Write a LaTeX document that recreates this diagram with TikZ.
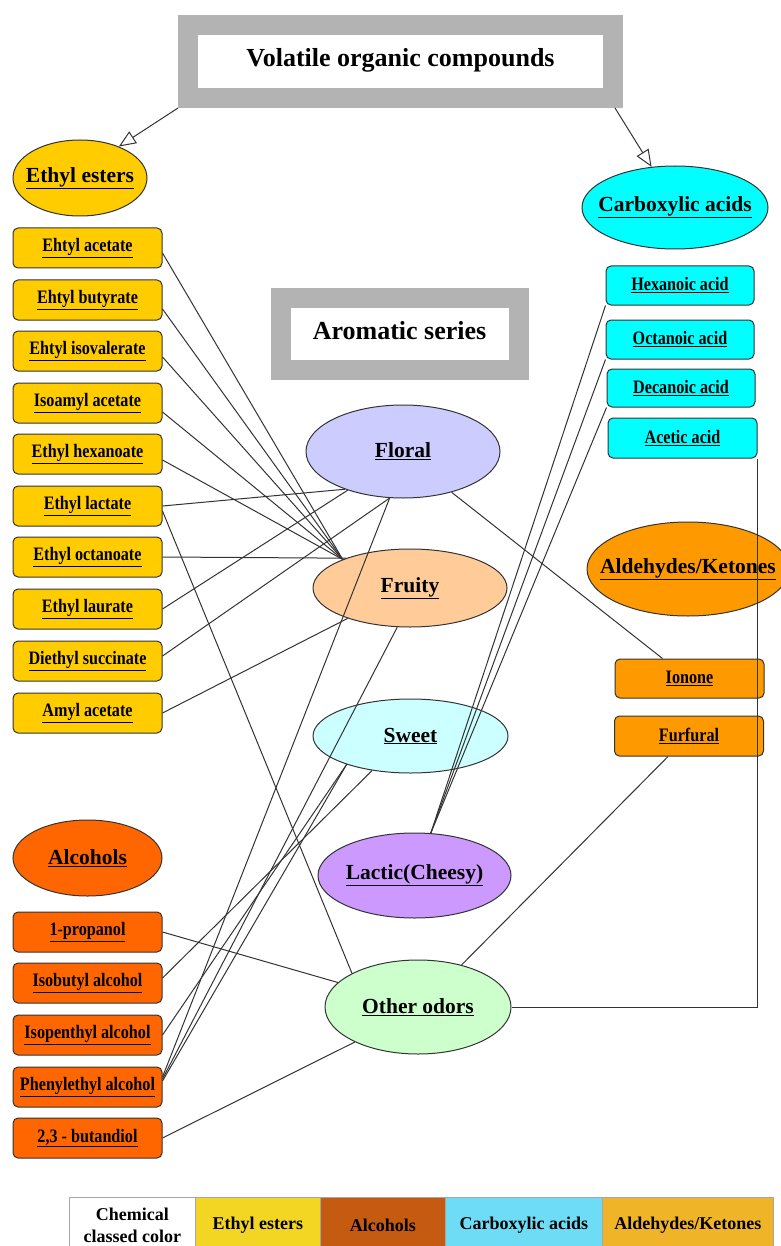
\documentclass[tikz,border=0pt]{standalone}
\usepackage{fontspec}
\setmainfont{Liberation Serif}
\newfontfamily\narrowserif{Liberation Serif}[FakeStretch=0.85]
\usetikzlibrary{shapes.geometric,arrows.meta}

\definecolor{esterc}{HTML}{FFCC00}
\definecolor{alcoc}{HTML}{FF6600}
\definecolor{acidc}{HTML}{00FFFF}
\definecolor{aldc}{HTML}{FF9900}
\definecolor{floralc}{HTML}{CCCCFF}
\definecolor{fruityc}{HTML}{FFCC99}
\definecolor{sweetc}{HTML}{CCFFFF}
\definecolor{lacticc}{HTML}{CC99FF}
\definecolor{otherc}{HTML}{CCFFCC}
\definecolor{framec}{HTML}{B3B3B3}
\definecolor{legyel}{HTML}{F2D623}
\definecolor{legbrn}{HTML}{C55A11}
\definecolor{legblu}{HTML}{6DDCF4}
\definecolor{legorg}{HTML}{EFB427}
\definecolor{linec}{HTML}{333333}

\newcommand{\ulab}[1]{\underline{#1}}
\newcommand{\elab}[1]{\makebox[0pt][c]{\underline{#1}}}

\tikzset{
  compound/.style={draw=linec, line width=1pt, rounded corners=5pt, minimum width=149pt, minimum height=40pt, inner sep=1pt, font=\narrowserif\fontsize{19}{21}\selectfont\bfseries},
  classel/.style={ellipse, draw=linec, line width=1pt, inner sep=0pt, font=\fontsize{21.5}{24}\selectfont\bfseries},
  seriesbox/.style={draw=framec, line width=20pt, fill=white, font=\fontsize{26}{28}\selectfont\bfseries},
  link/.style={draw=linec, line width=1pt},
  classarrow/.style={draw=linec, line width=1pt, -{Triangle[open, length=17pt, width=14pt]}},
  legcell/.style={draw=gray!70, line width=0.8pt, minimum height=55pt, anchor=north west, inner sep=1pt, font=\fontsize{18}{22}\selectfont\bfseries, align=center}
}

\begin{document}
\begin{tikzpicture}[x=1pt,y=-1pt]
  \useasboundingbox (0,0) rectangle (780,1246);

  % headings
  \node[seriesbox, minimum width=425pt, minimum height=73pt] (voc) at (400.5,61.5) {\raisebox{8pt}{Volatile organic compounds}};
  \node[seriesbox, minimum width=238pt, minimum height=72pt] (aroma) at (399.5,334) {\raisebox{8pt}{Aromatic series}};

  % chemical classes
  \node[classel, fill=esterc, minimum width=134pt, minimum height=76pt] (esters) at (80,178) {\elab{Ethyl esters}};
  \node[classel, fill=acidc, minimum width=186pt, minimum height=83pt] (acids) at (675,207.5) {\elab{Carboxylic acids}};
  \node[classel, fill=alcoc, minimum width=149pt, minimum height=76pt] (alcohols) at (87.5,858) {\elab{Alcohols}};
  \node[classel, fill=aldc, minimum width=202pt, minimum height=94pt] (aldket) at (688,569) {\elab{Aldehydes/Ketones}};

  % odors
  \node[classel, fill=floralc, minimum width=194pt, minimum height=93pt] (floral) at (403,451.5) {\elab{Floral}};
  \node[classel, fill=fruityc, minimum width=194pt, minimum height=78pt] (fruity) at (410,588) {\elab{Fruity}};
  \node[classel, fill=sweetc, minimum width=195pt, minimum height=74pt] (sweet) at (410.5,736) {\elab{Sweet}};
  \node[classel, fill=lacticc, minimum width=193pt, minimum height=85pt] (lactic) at (414.5,875.5) {\elab{Lactic(Cheesy)}};
  \node[classel, fill=otherc, minimum width=186pt, minimum height=94pt] (other) at (418,1007) {\elab{Other odors}};

  % ethyl esters
  \node[compound, fill=esterc] (e1) at (87.5,248) {\ulab{Ehtyl acetate}};
  \node[compound, fill=esterc] (e2) at (87.5,300) {\ulab{Ehtyl butyrate}};
  \node[compound, fill=esterc] (e3) at (87.5,351) {\ulab{Ehtyl isovalerate}};
  \node[compound, fill=esterc] (e4) at (87.5,403) {\ulab{Isoamyl acetate}};
  \node[compound, fill=esterc] (e5) at (87.5,454) {\ulab{Ethyl hexanoate}};
  \node[compound, fill=esterc] (e6) at (87.5,506) {\ulab{Ethyl lactate}};
  \node[compound, fill=esterc] (e7) at (87.5,557) {\ulab{Ethyl octanoate}};
  \node[compound, fill=esterc] (e8) at (87.5,609) {\ulab{Ethyl laurate}};
  \node[compound, fill=esterc] (e9) at (87.5,661) {\ulab{Diethyl succinate}};
  \node[compound, fill=esterc] (e10) at (87.5,713) {\ulab{Amyl acetate}};

  % alcohols
  \node[compound, fill=alcoc] (a1) at (87.5,932) {\ulab{1-propanol}};
  \node[compound, fill=alcoc] (a2) at (87.5,983) {\ulab{Isobutyl alcohol}};
  \node[compound, fill=alcoc] (a3) at (87.5,1035) {\ulab{Isopenthyl alcohol}};
  \node[compound, fill=alcoc] (a4) at (87.5,1087) {\ulab{Phenylethyl alcohol}};
  \node[compound, fill=alcoc] (a5) at (87.5,1138) {\ulab{2,3 - butandiol}};

  % acids
  \node[compound, fill=acidc, minimum width=148pt, minimum height=39pt] (hexa) at (680,285.5) {\ulab{Hexanoic acid}};
  \node[compound, fill=acidc, minimum width=148pt, minimum height=39pt] (octa) at (680,339.5) {\ulab{Octanoic acid}};
  \node[compound, fill=acidc, minimum width=148pt, minimum height=38pt] (deca) at (681,388) {\ulab{Decanoic acid}};
  \node[compound, fill=acidc] (acet) at (682.5,438) {\ulab{Acetic acid}};

  % aldehydes/ketones
  \node[compound, fill=aldc, minimum height=39pt] (ionone) at (689.5,678.5) {\ulab{Ionone}};
  \node[compound, fill=aldc] (furfural) at (689,736) {\ulab{Furfural}};

  \draw[classarrow] (voc.south west) -- (esters.39);
  \draw[classarrow] ([xshift=-8pt]voc.south east) -- (acids.120);

  % esters
  \draw[link] ([yshift=-5pt]e1.east) -- (fruity.157);
  \draw[link] ([yshift=-9pt]e2.east) -- (fruity.157);
  \draw[link] ([yshift=-6pt]e3.east) -- (fruity.157);
  \draw[link] ([yshift=-9pt]e4.east) -- (fruity.157);
  \draw[link] ([yshift=-6pt]e5.east) -- (fruity.157);
  \draw[link] (e6.east) -- (floral.213);
  \draw[link] ([yshift=-5pt]e6.east) -- (other.153);
  \draw[link] (e7.east) -- (fruity.155);
  \draw[link] (e8.east) -- (floral.215);
  \draw[link] ([yshift=5pt]e9.east) -- (floral.254);
  \draw[link] (e10.east) -- (fruity.206);

  % alcohols
  \draw[link] (a1.east) -- (other.163);
  \draw[link] ([yshift=5pt]a2.east) -- (sweet.222);
  \draw[link] (a3.east) -- (sweet.204);
  \draw[link] ([yshift=10pt]a4.east) -- (floral.254);
  \draw[link] ([yshift=8pt]a4.east) -- (fruity.252);
  \draw[link] ([yshift=6pt]a4.east) -- (sweet.204);
  \draw[link] (a5.east) -- (other.209);

  % acids
  \draw[link] (hexa.south west) -- (lactic.69);
  \draw[link] (octa.south west) -- (lactic.69);
  \draw[link] (deca.south west) -- (lactic.69);
  \draw[link] (acet.south east) |- (other.east);

  % aldehydes/ketones
  \draw[link] (floral.320) -- ([xshift=-27pt]ionone.north);
  \draw[link] ([xshift=-21pt]furfural.south) -- (other.44);

  % legend
  \node[legcell, fill=white, minimum width=126pt] (lg0) at (69,1197) {Chemical\\classed color};
  \node[legcell, fill=legyel, minimum width=125pt] (lg1) at (195,1197) {Ethyl esters};
  \node[legcell, fill=legbrn, minimum width=125pt] (lg2) at (320,1197) {Alcohols};
  \node[legcell, fill=legblu, minimum width=157pt] (lg3) at (445,1197) {Carboxylic acids};
  \node[legcell, fill=legorg, minimum width=171pt] (lg4) at (602,1197) {Aldehydes/Ketones};
\end{tikzpicture}
\end{document}
